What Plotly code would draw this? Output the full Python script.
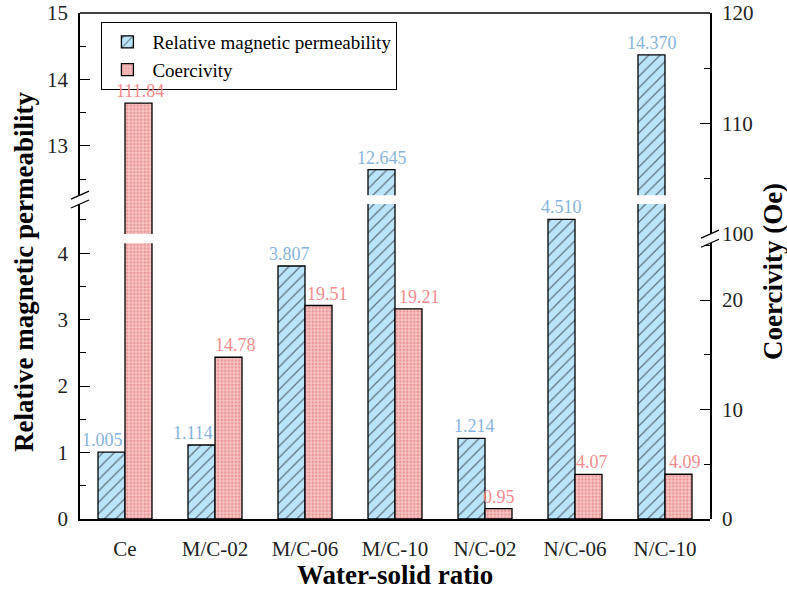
import plotly.graph_objects as go

# Samples and measured properties
categories = ["Ce", "M/C-02", "M/C-06", "M/C-10", "N/C-02", "N/C-06", "N/C-10"]
permeability = [1.005, 1.114, 3.807, 12.645, 1.214, 4.510, 14.370]
coercivity = [111.84, 14.78, 19.51, 19.21, 0.95, 4.07, 4.09]

# Horizontal nudges (px) that keep value labels clear of neighbouring bars
perm_label_shift = [-9, -9, -2, 0, 3, 0, 0]
coer_label_shift = [1, 7, 9, 11, 0, 3, 6]

# Broken-axis segments (value ranges and vertical domains)
left_low_range, left_high_range = [0, 4.74], [12.26, 15]
right_low_range, right_high_range = [0, 25.2], [100, 120]
left_low_dom, left_high_dom = [0, 0.6225], [0.640, 1]
right_low_dom, right_high_dom = [0, 0.545], [0.563, 1]

SERIF = "Liberation Serif, Times New Roman, serif"
BLUE_FILL = "#bae4fa"
BLUE_TEXT = "#86b4dc"
RED_FILL = "#f7c4c4"
RED_DOT = "#dc6464"
RED_TEXT = "#f28c8e"
BAR_W = 0.3

blue_marker = dict(
    color=BLUE_FILL,
    line=dict(color="black", width=1.3),
    pattern=dict(shape="/", fgcolor="black", bgcolor=BLUE_FILL,
                 size=8, solidity=0.15, fillmode="overlay"),
)
red_marker = dict(
    color=RED_FILL,
    line=dict(color="black", width=1.3),
    pattern=dict(shape=".", fgcolor=RED_DOT, bgcolor=RED_FILL,
                 size=3.5, solidity=0.4, fillmode="overlay"),
)

fig = go.Figure()
for yax, show in (("y", True), ("y3", False)):
    fig.add_trace(go.Bar(
        x=categories, y=permeability, yaxis=yax, xaxis="x",
        offset=-BAR_W, width=BAR_W, marker=blue_marker,
        name="Relative magnetic permeability", showlegend=show,
        legendrank=1,
    ))
for yax, show in (("y2", True), ("y4", False)):
    fig.add_trace(go.Bar(
        x=categories, y=coercivity, yaxis=yax, xaxis="x",
        offset=0, width=BAR_W, marker=red_marker,
        name="Coercivity", showlegend=show, legendrank=2,
    ))

# Value labels above each bar, placed on the segment holding the bar top
annotations = []
for i, v in enumerate(permeability):
    yref = "y" if v < left_low_range[1] else "y3"
    annotations.append(dict(
        x=i - BAR_W / 2, y=v, xref="x", yref=yref, text=f"{v:.3f}",
        showarrow=False, yanchor="bottom", xshift=perm_label_shift[i],
        font=dict(family=SERIF, size=18, color=BLUE_TEXT),
    ))
for i, v in enumerate(coercivity):
    yref = "y2" if v < right_low_range[1] else "y4"
    annotations.append(dict(
        x=i + BAR_W / 2, y=v, xref="x", yref=yref, text=f"{v:.2f}",
        showarrow=False, yanchor="bottom", xshift=coer_label_shift[i],
        font=dict(family=SERIF, size=18, color=RED_TEXT),
    ))

# Axis titles spanning the whole plot height
title_font = dict(family=SERIF, size=27, color="black")
annotations += [
    dict(text="<b>Relative magnetic permeability</b>", xref="paper", yref="paper",
         x=-0.089, y=0.488, textangle=-90, showarrow=False,
         xanchor="center", yanchor="middle", font=title_font),
    dict(text="<b>Coercivity (Oe)</b>", xref="paper", yref="paper",
         x=1.1, y=0.488, textangle=-90, showarrow=False,
         xanchor="center", yanchor="middle", font=title_font),
    dict(text="<b>Water-solid ratio</b>", xref="paper", yref="paper",
         x=0.5, y=-0.111, showarrow=False,
         xanchor="center", yanchor="middle", font=title_font),
]

# Frame top edge and the "//" break marks on both vertical axes
shapes = [dict(type="line", xref="paper", yref="paper", x0=0, x1=1, y0=1, y1=1,
               line=dict(color="black", width=1.6))]
for xa, edges in ((0, (left_low_dom[1], left_high_dom[0])),
                  (1, (right_low_dom[1], right_high_dom[0]))):
    for ye in edges:
        shapes.append(dict(
            type="line", xref="paper", yref="paper",
            xsizemode="pixel", ysizemode="pixel",
            xanchor=xa, yanchor=ye, x0=-9, x1=9, y0=-4, y1=4,
            line=dict(color="black", width=1.3),
        ))

tick_font = dict(family=SERIF, size=21, color="#222")


def yaxis(domain, rng, dtick, minor, side):
    return dict(
        domain=domain, range=rng, anchor="x", side=side,
        showline=True, linecolor="black", linewidth=1.6,
        ticks="inside", ticklen=10, tickwidth=1.4, tickcolor="black",
        dtick=dtick, tick0=0,
        minor=dict(dtick=minor, ticks="inside", ticklen=6, tickwidth=1.4,
                   tickcolor="black", showgrid=False),
        showgrid=False, zeroline=False, tickfont=tick_font,
        ticklabelstandoff=6, fixedrange=True, automargin=False,
    )


fig.update_layout(
    width=787, height=592,
    margin=dict(l=80, r=77, t=13, b=73),
    paper_bgcolor="white", plot_bgcolor="rgba(0,0,0,0)",
    barmode="overlay",
    font=dict(family=SERIF, color="black"),
    xaxis=dict(
        domain=[0, 1], anchor="y", type="category", range=[-0.5, 6.5],
        showline=True, linecolor="black", linewidth=1.6, ticks="",
        showgrid=False, tickfont=tick_font, ticklabelstandoff=10,
        automargin=False, fixedrange=True,
    ),
    yaxis=yaxis(left_low_dom, left_low_range, 1, 0.5, "left"),
    yaxis3=yaxis(left_high_dom, left_high_range, 1, 0.5, "left"),
    yaxis2=yaxis(right_low_dom, right_low_range, 10, 5, "right"),
    yaxis4=yaxis(right_high_dom, right_high_range, 10, 5, "right"),
    legend=dict(
        x=0.034, y=0.982, xanchor="left", yanchor="top",
        bgcolor="white", bordercolor="black", borderwidth=1,
        font=dict(family=SERIF, size=19, color="black"),
        tracegroupgap=0, itemwidth=40,
    ),
    annotations=annotations,
    shapes=shapes,
    showlegend=True,
)

fig.write_html("out.html")
